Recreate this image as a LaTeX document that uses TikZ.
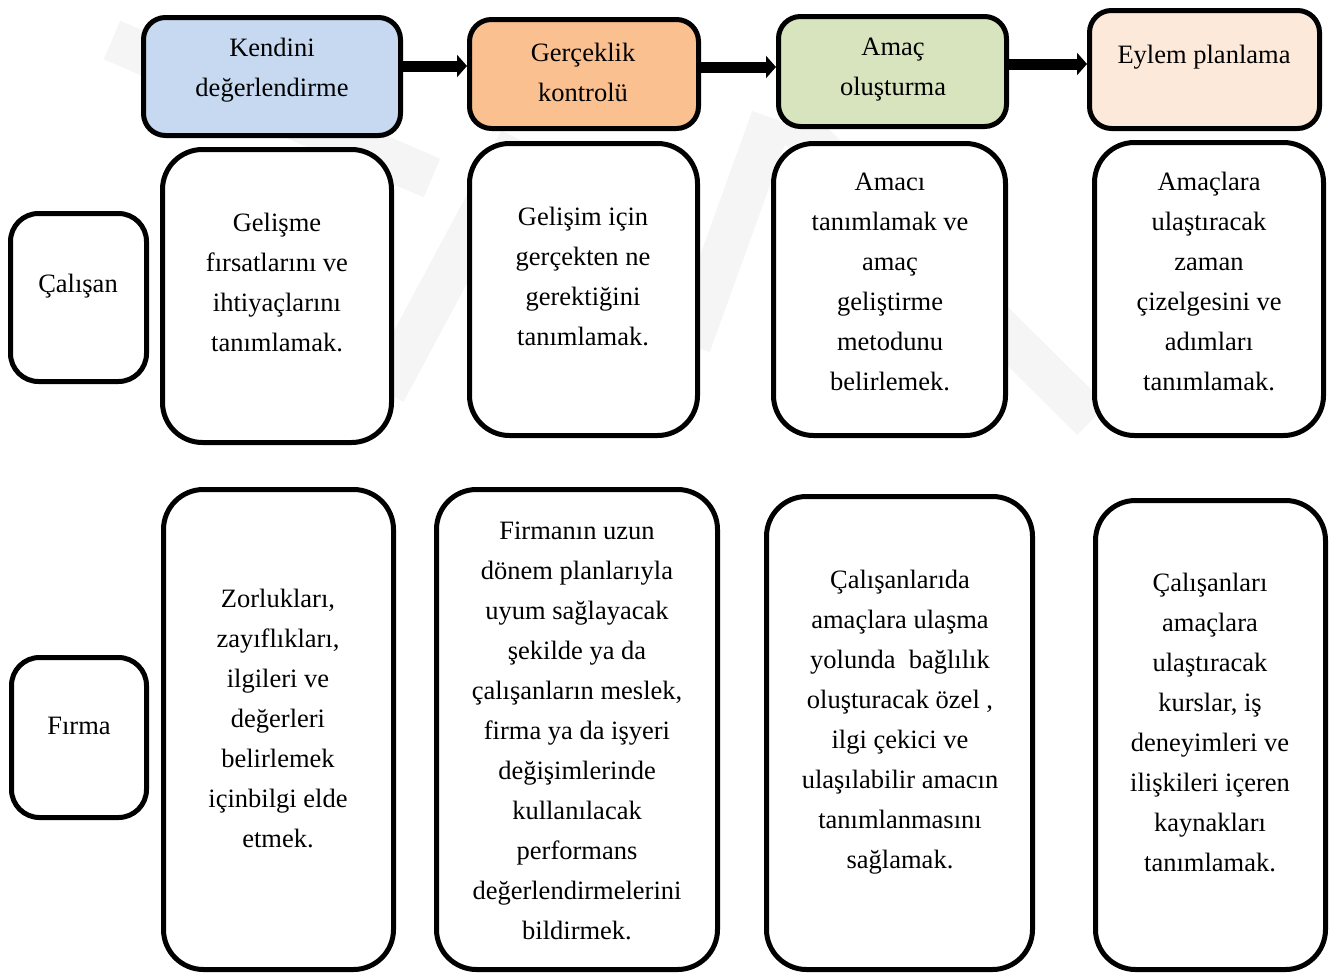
\documentclass[tikz,border=0pt]{standalone}
\usepackage{fontspec}
\setmainfont{Liberation Serif}
\usetikzlibrary{arrows.meta}

\definecolor{stepblue}{HTML}{C6D9F1}
\definecolor{steporange}{HTML}{FAC090}
\definecolor{stepgreen}{HTML}{D7E4BD}
\definecolor{steppeach}{HTML}{FDE9D9}
\definecolor{markgray}{HTML}{F5F5F5}

\begin{document}
\begin{tikzpicture}[x=1pt,y=-1pt,
  box/.style={draw=black,line width=5pt,inner sep=0pt,fill=white},
  headbox/.style={box,rounded corners=22pt},
  rolebox/.style={box,rounded corners=28pt},
  cellbox/.style={box,rounded corners=40pt},
  txt/.style={align=center,inner sep=0pt,font=\fontsize{26.5}{40}\selectfont},
  flow/.style={line width=11pt,-{Triangle[length=10pt,width=22pt]}},
  band/.style={markgray,line width=42pt}
]
\useasboundingbox (0,0) rectangle (1336,975);

% faint background mark
\draw[band] (112,40) -- (432,178);
\draw[band] (520,140) -- (385,392);
\draw[band] (772,118) -- (690,345);
\draw[band] (790,120) -- (1092,420);

% header steps
\node[headbox,fill=stepblue,minimum width=257pt,minimum height=118pt] (k) at (272,76.5) {};
\node[headbox,fill=steporange,minimum width=229pt,minimum height=109pt] (g) at (584,74) {};
\node[headbox,fill=stepgreen,minimum width=228pt,minimum height=110pt] (a) at (892.5,71.5) {};
\node[headbox,fill=steppeach,minimum width=230pt,minimum height=118pt] (e) at (1204.5,69.5) {};
\node[txt] (kt) at (272,70) {Kendini\\değerlendirme};
\node[txt] (gt) at (583,72) {Gerçeklik\\kontrolü};
\node[txt] (at) at (893,70) {Amaç\\oluşturma};
\node[txt] (et) at (1204,57) {Eylem planlama};

% flow arrows between the steps
\draw[flow] (k.east |- 0,66) -- (g.west |- 0,66);
\draw[flow] (g.east |- 0,67) -- (a.west |- 0,67);
\draw[flow] (a.east |- 0,64) -- (e.west |- 0,64);

% employee row
\node[rolebox,minimum width=136pt,minimum height=168pt] (cal) at (78.5,297.5) {};
\node[txt] (calt) at (78,286) {Çalışan};
\node[cellbox,minimum width=229pt,minimum height=293pt] (c1) at (277,296) {};
\node[cellbox,minimum width=228pt,minimum height=292pt] (c2) at (583.5,289.5) {};
\node[cellbox,minimum width=232pt,minimum height=292pt] (c3) at (889.5,289.5) {};
\node[cellbox,minimum width=229pt,minimum height=293pt] (c4) at (1209,289) {};
\node[txt] (c1t) at (277,282) {Gelişme\\fırsatlarını ve\\ihtiyaçlarını\\tanımlamak.};
\node[txt] (c2t) at (583,276) {Gelişim için\\gerçekten ne\\gerektiğini\\tanımlamak.};
\node[txt] (c3t) at (890,281.5) {Amacı\\tanımlamak ve\\amaç\\geliştirme\\metodunu\\belirlemek.};
\node[txt] (c4t) at (1209,281) {Amaçlara\\ulaştıracak\\zaman\\çizelgesini ve\\adımları\\tanımlamak.};

% company row
\node[rolebox,minimum width=135pt,minimum height=160pt] (fir) at (79,737.5) {};
\node[txt] (firt) at (79,726) {Fırma};
\node[cellbox,minimum width=230pt,minimum height=480pt] (f1) at (278.5,729.5) {};
\node[cellbox,minimum width=281pt,minimum height=480pt] (f2) at (577,729.5) {};
\node[cellbox,minimum width=266pt,minimum height=473pt] (f3) at (899.5,733) {};
\node[cellbox,minimum width=230pt,minimum height=469pt] (f4) at (1210.5,735) {};
\node[txt] (f1t) at (278,718.5) {Zorlukları,\\zayıflıkları,\\ilgileri ve\\değerleri\\belirlemek\\içinbilgi elde\\etmek.};
\node[txt] (f2t) at (577,731) {Firmanın uzun\\dönem planlarıyla\\uyum sağlayacak\\şekilde ya da\\çalışanların meslek,\\firma ya da işyeri\\değişimlerinde\\kullanılacak\\performans\\değerlendirmelerini\\bildirmek.};
\node[txt] (f3t) at (900,722.5) {Çalışanlarıda\\amaçlara ulaşma\\yolunda\ \ bağlılık\\oluşturacak özel ,\\ilgi çekici ve\\ulaşılabilir amacın\\tanımlanmasını\\sağlamak.};
\node[txt] (f4t) at (1210,722) {Çalışanları\\amaçlara\\ulaştıracak\\kurslar, iş\\deneyimleri ve\\ilişkileri içeren\\kaynakları\\tanımlamak.};
\end{tikzpicture}
\end{document}
